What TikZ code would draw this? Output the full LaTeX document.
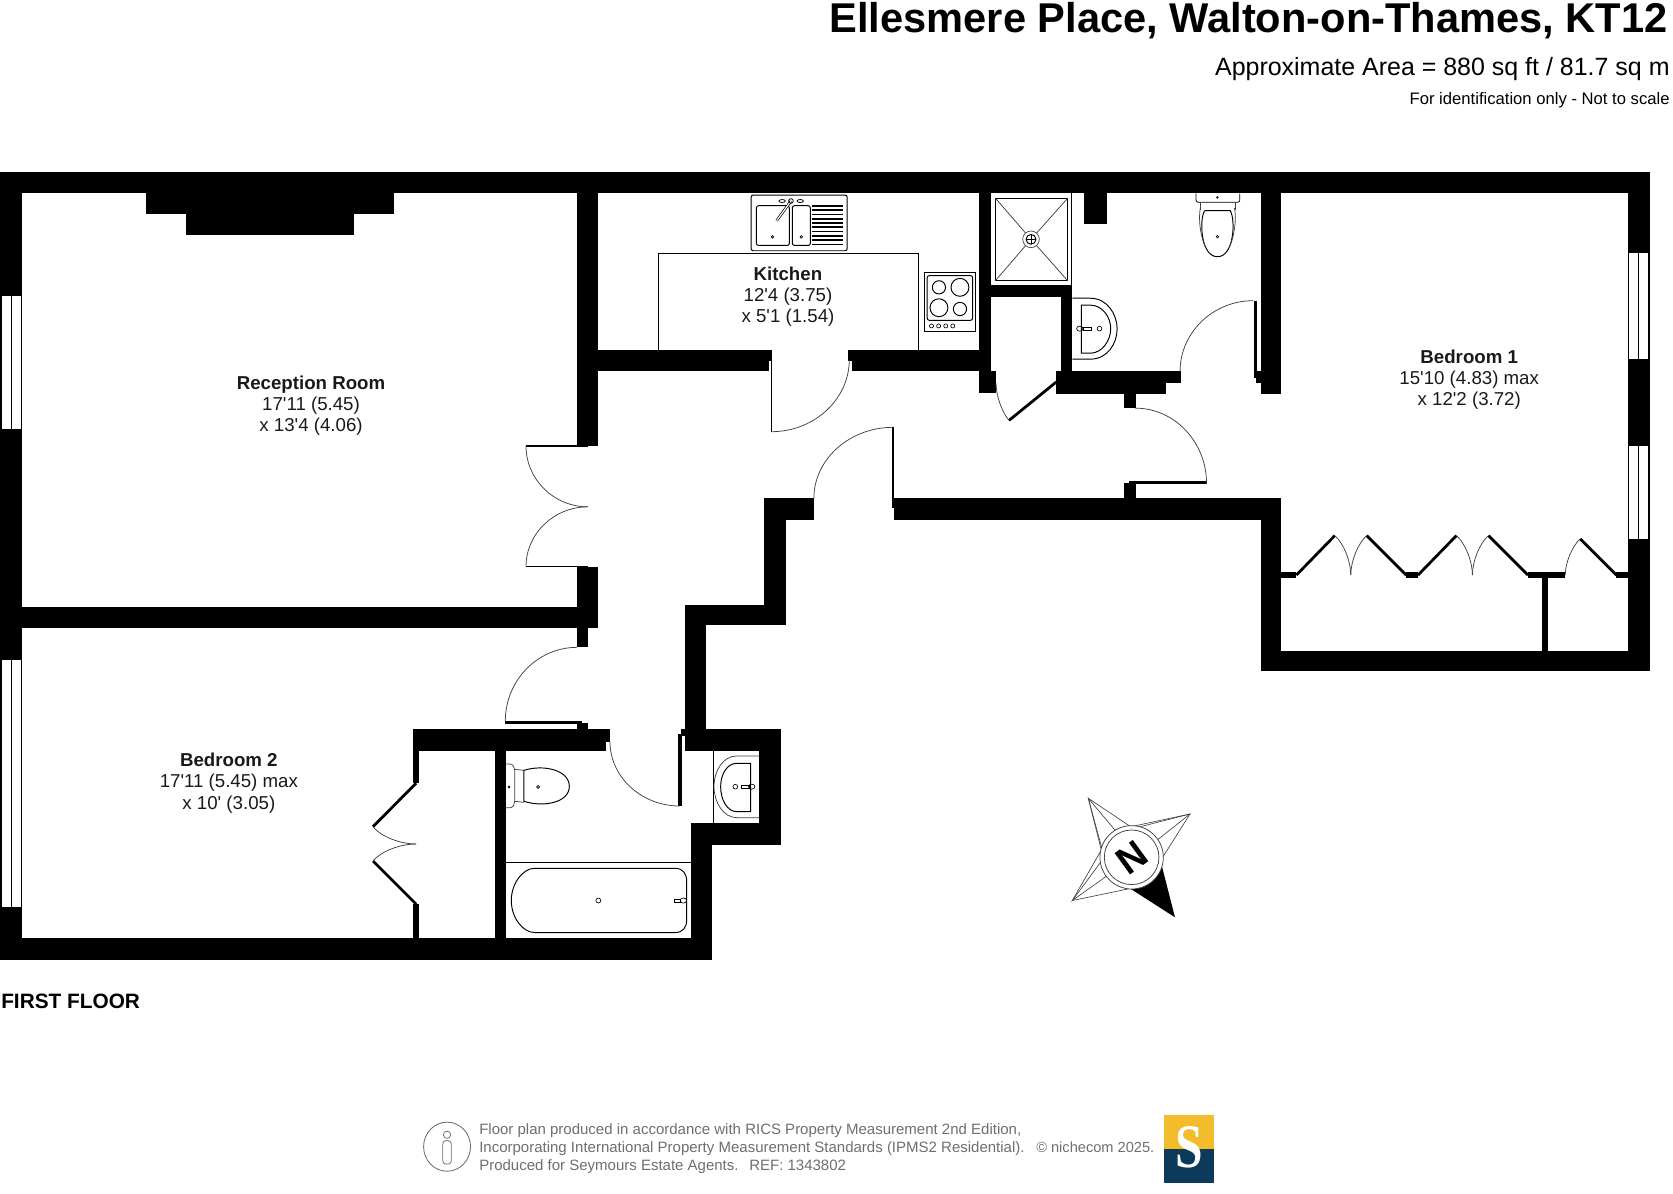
\documentclass[tikz,border=0pt]{standalone}
\usepackage{fontspec}
\setmainfont{Liberation Sans}
\definecolor{foot}{HTML}{6E6E6E}
\definecolor{logoy}{HTML}{F2BC2A}
\definecolor{logon}{HTML}{0B3A5B}
\newcommand{\wl}[4]{\fill[black] (#1,#2) rectangle (#3,#4);}
\newcommand{\windw}[4]{\fill[white] (#1,#2) rectangle (#3,#4); \draw[thinl] (#1,#2) rectangle (#3,#4); \draw[thinl] ({(#1+#3)/2},#2) -- ({(#1+#3)/2},#4);}
\newcommand{\qarc}[6]{\draw[arcl] (#1,#2) .. controls ({#1+.55*(#5-#1)},{#2+.55*(#6-#2)}) and ({#3+.55*(#5-#3)},{#4+.55*(#6-#4)}) .. (#3,#4);}
\newcommand{\fs}[1]{\fontsize{#1}{#1}\selectfont}
\newcommand{\ap}{\textquotesingle}
\tikzset{
  thinl/.style={draw=black,line width=.8pt},
  arcl/.style={draw=black!75,line width=.7pt},
  leaf/.style={draw=black,line width=2.6pt},
  san/.style={draw=black,line width=.9pt},
  room/.style={align=center,inner sep=0pt,font=\fs{17.5},text=black!90},
}
\begin{document}
\begin{tikzpicture}[x=1pt,y=-1pt]
\useasboundingbox (0,0) rectangle (1568,1119);
% outer and main walls
\wl{0}{161}{1546}{181}
\wl{0}{161}{20.4}{899.6}
\wl{1526}{161}{1546}{629}
\wl{1182}{610}{1546}{629}
\wl{1182}{467}{1201}{629}
\wl{838}{467}{1201}{487}
\wl{1182}{181}{1201}{369}
\wl{1177}{348}{1182}{359}
\wl{1175}{282}{1178}{354}
% chimney
\wl{136.4}{181}{369}{200.6}
\wl{174}{200}{331.7}{220}
% kitchen
\wl{541}{181}{560}{418}
\wl{541}{328}{720.8}{347.4}
\wl{720}{328}{724}{338}
\wl{798.6}{328}{929}{347.4}
\wl{794.8}{328}{799}{338}
\wl{918}{181}{929}{359}
\wl{918}{348}{933.5}{368.7}
% ensuite
\wl{929}{267}{1005}{278}
\wl{994.5}{278}{1005}{348}
\wl{990}{348}{1107}{359}
\wl{990}{359}{1093}{369}
\wl{1053}{369}{1064.5}{382.5}
\wl{1053}{453}{1064.5}{467}
\wl{1016}{181}{1037.5}{209.6}
% hall
\wl{716}{467}{762.8}{487}
\wl{716}{467}{736.6}{586}
\wl{642}{567}{736.6}{586}
\wl{642}{567}{661.4}{704}
\wl{642}{683}{732}{703.6}
\wl{711.3}{683}{732}{791.9}
\wl{647.6}{771.6}{732}{791.9}
\wl{647.6}{771.6}{667.3}{899.6}
\wl{0}{879.3}{667.3}{899.6}
\wl{0}{568.6}{560}{588.3}
\wl{541}{531}{560}{588.3}
\wl{541}{588}{551}{606.7}
\wl{541}{678}{551}{684}
\wl{387}{683.2}{571.7}{695}
\wl{387}{694}{568}{703.6}
\wl{387}{703}{392.7}{734}
\wl{387}{847.4}{392.7}{880}
\wl{464}{703}{474.3}{880}
\wl{638}{683}{643}{690}
\wl{635.6}{688}{639}{755.4}
% windows
\windw{1}{277}{20}{402}
\windw{1}{618}{20}{850}
\windw{1526}{237}{1545}{336.5}
\windw{1526}{417.7}{1545}{506}
% door leaves
\draw[leaf,line width=1.6pt] (493,418) -- (551,418);
\draw[leaf,line width=1.6pt] (493,531) -- (551,531);
\draw[leaf,line width=1.6pt] (723,328) -- (723,404.6);
\draw[leaf,line width=1.6pt] (837,400.5) -- (837,476);
\draw[leaf] (1058,452.5) -- (1130.8,452.5);
\draw[leaf] (473.6,677) -- (545.7,677);
\draw[leaf] (990,358) -- (945.7,394);
% door swings
\qarc{493}{418}{551}{475}{493}{475}
\qarc{493}{531}{551}{475}{493}{475}
\qarc{723}{404.6}{796}{337}{796}{404.6}
\qarc{837}{400.5}{762.8}{467}{762.8}{400.5}
\qarc{1064}{382.5}{1130.8}{453}{1130.8}{382.5}
\qarc{1106}{348}{1174.7}{281.8}{1106}{281.8}
\qarc{933.5}{359}{945.7}{394}{933.5}{380}
\qarc{540.8}{606.7}{473.6}{675.7}{473.6}{606.7}
\qarc{571.7}{695}{637}{755.4}{571.7}{755.4}
% bedroom 2 closet
\draw[leaf] (390,734) -- (349.6,774.8);
\draw[leaf] (390,847.4) -- (349.6,807);
\qarc{349.6}{774.8}{390}{791}{362}{791}
\qarc{349.6}{807}{390}{791}{362}{791}
% wardrobes bedroom 1
\wl{1201}{536}{1215}{541.5}
\wl{1318}{536}{1329}{541.5}
\wl{1432}{536}{1467}{541.5}
\wl{1515}{536}{1526}{541.5}
\wl{1445}{541}{1451}{610}
\draw[leaf] (1215,539) -- (1251,502);
\draw[leaf] (1281,502) -- (1318,539);
\draw[leaf] (1329,539) -- (1365,502);
\draw[leaf] (1395,502) -- (1432,539);
\draw[leaf] (1481,505) -- (1515,539);
\qarc{1251}{502}{1266}{539}{1266}{515}
\qarc{1281}{502}{1266}{539}{1266}{515}
\qarc{1365}{502}{1380}{539}{1380}{515}
\qarc{1395}{502}{1380}{539}{1380}{515}
\qarc{1481}{505}{1467}{539}{1467}{518}
% kitchen counter
\draw[san] (616.8,328) -- (616.8,238) -- (860.6,238) -- (860.6,328);
% sink
\draw[san,rounded corners=2pt] (704,182.8) rectangle (794,235);
\draw[san,rounded corners=2pt] (708.9,192.8) rectangle (739.8,230);
\draw[san,rounded corners=2pt] (742.6,192.8) rectangle (759.5,230);
\foreach \yy in {193,197,201,205,209,213,217,221,225,229} \draw[line width=1.5pt] (760.7,\yy) -- (789.8,\yy);
\draw[san,line width=2.4pt] (727.9,206.8) -- (741.3,188.4);
\draw[white,line width=1.1pt] (727.9,206.8) -- (741.3,188.4);
\draw[san,line width=.7pt] (741.3,188.4) circle (2.2);
\draw[san,line width=.7pt] (733,188.4) ellipse (3 and 1.4);
\draw[san,line width=.7pt] (750,188.4) ellipse (3 and 1.4);
\draw[san,line width=.6pt] (724,222) circle (1.2);
\draw[san,line width=.6pt] (751,222) circle (1.2);
% hob
\draw[san] (866.3,255.2) rectangle (914.4,310.9);
\draw[san,rounded corners=2pt] (869,258.3) rectangle (911.6,300.2);
\draw[san] (880,269.3) circle (6.2);
\draw[san] (899.7,269.3) circle (8.4);
\draw[san] (880,288.4) circle (8.4);
\draw[san] (899.7,289.6) circle (6.2);
\foreach \xx in {873,879.7,886.4,893} \draw[san,line width=.6pt] (\xx,305.5) circle (1.9);
% shower
\draw[thinl,line width=.6pt] (1004.5,181) -- (1004.5,267);
\draw[san] (933,185.8) rectangle (1000.6,263);
\draw[arcl] (933,185.8) -- (966.3,224.3) -- (1000.6,185.8);
\draw[arcl] (933,263) -- (966.3,224.3) -- (1000.6,263);
\fill[white,draw=black!70,line width=.7pt] (966.3,224.3) circle (7.8);
\draw[san] (966.3,224.3) circle (4.6);
\draw[san,line width=.7pt] (961.7,224.3) -- (970.9,224.3) (966.3,219.7) -- (966.3,228.9);
% ensuite basin
\draw[san] (1005,279.5) -- (1022,279.5) .. controls (1038,279.5) and (1047,295) .. (1047,308) .. controls (1047,322) and (1038,336.6) .. (1022,336.6) -- (1005,336.6);
\draw[san] (1013.5,286) -- (1022,286) .. controls (1033,286) and (1041,297) .. (1041,308) .. controls (1041,319) and (1033,331) .. (1022,331) -- (1013.5,331) -- cycle;
\draw[san,line width=.6pt] (1030.5,308) circle (2.2);
\draw[san,line width=.6pt] (1012,308) ellipse (3 and 2.4);
\draw[san,line width=.6pt] (1015,306.5) rectangle (1023,309.5);
% ensuite WC
\draw[san,line width=.7pt,rounded corners=2pt] (1121,181.5) -- (1121,189.6) -- (1162,189.6) -- (1162,181.5);
\draw[arcl] (1125,189.6) -- (1125,197) (1158,189.6) -- (1158,197);
\draw[san] (1129,197.5) -- (1153,197.5) .. controls (1158,205) and (1157,240.6) .. (1141,240.6) .. controls (1125,240.6) and (1124,205) .. (1129,197.5);
\draw[arcl] (1125,195) .. controls (1123,205) and (1125,222) .. (1130,232);
\draw[arcl] (1157,195) .. controls (1159,205) and (1157,222) .. (1152,232);
\draw[san,line width=.6pt] (1141,221.8) circle (1.2);
\draw[san,line width=.6pt] (1141,185) circle (.8);
% bathroom WC
\draw[arcl,rounded corners=2pt] (474.3,716) -- (480,716) -- (482.4,720) -- (482.4,753) -- (480,757) -- (474.3,757);
\draw[arcl] (482.4,721) -- (491,722) (482.4,751) -- (491,752);
\draw[san] (491,722) .. controls (510,716) and (533.6,722) .. (533.6,737) .. controls (533.6,752) and (510,757) .. (491,751) -- cycle;
\draw[san,line width=.6pt] (504.3,737.6) circle (1.4);
\draw[san,line width=.6pt] (477,737.6) circle (.8);
% bathroom basin
\draw[thinl,line width=.6pt] (668.6,703.6) -- (668.6,771.6);
\draw[arcl] (711.3,708.5) -- (690.4,708.5) .. controls (678,708.5) and (669.2,722) .. (669.2,737.3) .. controls (669.2,752) and (678,766.3) .. (690.4,766.3) -- (711.3,766.3);
\draw[san] (703.5,715.4) -- (690.4,715.4) .. controls (682,715.4) and (675.4,725) .. (675.4,737.3) .. controls (675.4,750) and (682,760.7) .. (690.4,760.7) -- (703.5,760.7) -- cycle;
\draw[san,line width=.6pt] (689.2,737.3) circle (2.2);
\draw[san,line width=.6pt] (704.5,737.3) ellipse (3 and 2.4);
\draw[san,line width=.6pt] (695,735.8) rectangle (702,738.8);
% bath
\draw[san] (474.3,808.2) -- (647.6,808.2);
\draw[san] (501,813.8) -- (633,813.8) .. controls (640,813.8) and (643.6,819) .. (643.6,826) -- (643.6,862) .. controls (643.6,869) and (640,874) .. (633,874) -- (501,874) .. controls (490,874) and (479.2,860) .. (479.2,844) .. controls (479.2,828) and (490,813.8) .. (501,813.8) -- cycle;
\draw[san,line width=.6pt] (560.8,844) circle (2.3);
\draw[san,line width=.6pt] (640.5,844) ellipse (3 and 2.4);
\draw[san,line width=.6pt] (632,842.5) rectangle (638,845.5);
% compass
\draw[arcl,line width=.6pt,fill=white] (1020,748.2) -- (1045,778) -- (1115.3,762.9) -- (1085,787) -- (1005,844) -- (1035,803.5) -- cycle;
\draw[arcl,line width=.6pt] (1020,748.2) -- (1032,796) (1020,748.2) -- (1060,775) (1115.3,762.9) -- (1068,775) (1115.3,762.9) -- (1090,803) (1005,844) -- (1058,833) (1005,844) -- (1032,797);
\fill[black] (1088,808) -- (1101.2,859.7) -- (1058,832) -- cycle;
\draw[arcl,line width=.7pt,fill=white] (1060.6,803.5) circle (29.7);
\draw[arcl,line width=.7pt,fill=white] (1060.6,803.5) circle (25.6);
\node[inner sep=0pt,rotate=36,font=\bfseries\fs{36}] (north) at (1060.6,803.5) {N};
% room labels
\node[room] (rec) at (291.5,380) {\textbf{Reception Room}\\[2.4pt]17\ap11 (5.45)\\[2.4pt]x 13\ap4 (4.06)};
\node[room] (kit) at (738.5,278) {\textbf{Kitchen}\\[2.4pt]12\ap4 (3.75)\\[2.4pt]x 5\ap1 (1.54)};
\node[room] (bed1) at (1377,356) {\textbf{Bedroom 1}\\[2.4pt]15\ap10 (4.83) max\\[2.4pt]x 12\ap2 (3.72)};
\node[room] (bed2) at (214.5,734) {\textbf{Bedroom 2}\\[2.4pt]17\ap11 (5.45) max\\[2.4pt]x 10\ap{} (3.05)};
% headings
\node[anchor=base east,inner sep=0pt,font=\bfseries\fs{39}] (title) at (1563,30) {Ellesmere Place, Walton-on-Thames, KT12};
\node[anchor=base east,inner sep=0pt,font=\fs{23.4}] (area) at (1565,71) {Approximate Area = 880 sq ft / 81.7 sq m};
\node[anchor=base east,inner sep=0pt,font=\fs{15.6}] (ident) at (1565,98) {For identification only - Not to scale};
\node[anchor=base west,inner sep=0pt,font=\bfseries\fs{19.5}] (floor) at (1,945) {FIRST FLOOR};
% footer
\node[anchor=base west,inner sep=0pt,font=\fs{14.06},text=foot] (f1) at (449,1063) {Floor plan produced in accordance with RICS Property Measurement 2nd Edition,};
\node[anchor=base west,inner sep=0pt,font=\fs{14.06},text=foot] (f2) at (449,1080) {Incorporating International Property Measurement Standards (IPMS2 Residential).};
\node[anchor=base west,inner sep=0pt,font=\fs{14.06},text=foot] (f3) at (449,1097) {Produced for Seymours Estate Agents.\hspace{10pt}REF: 1343802};
\node[anchor=base west,inner sep=0pt,font=\fs{13.7},text=foot] (f4) at (971,1080) {© nichecom 2025.};
% person icon
\draw[foot,line width=.8pt] (419,1074.7) ellipse (22 and 23);
\draw[foot,line width=.7pt] (419,1063.5) circle (3.4);
\draw[foot,line width=.7pt,rounded corners=3pt] (415,1069) rectangle (423,1091);
% logo
\fill[logoy] (1091,1045) rectangle (1138,1077);
\fill[logon] (1091,1077) rectangle (1138,1108.5);
\node[inner sep=0pt,text=white,xscale=.8,font=\bfseries\fontspec{Liberation Serif}\fs{58}] (logo) at (1114.5,1075) {S};
\end{tikzpicture}
\end{document}
